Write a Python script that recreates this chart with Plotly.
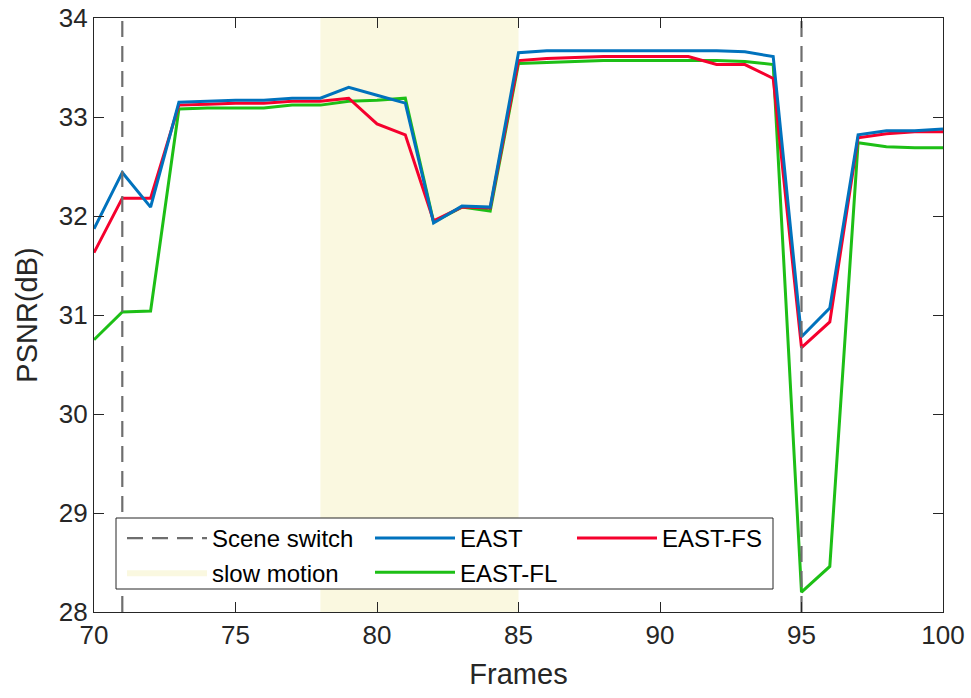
import plotly.graph_objects as go

frames = list(range(70, 101))

east = [31.87, 32.44, 32.09, 33.15, 33.16, 33.17, 33.17, 33.19, 33.19, 33.30,
        33.22, 33.14, 31.93, 32.10, 32.09, 33.65, 33.67, 33.67, 33.67, 33.67,
        33.67, 33.67, 33.67, 33.66, 33.61, 30.78, 31.07, 32.82, 32.86, 32.86, 32.88]

east_fs = [31.63, 32.18, 32.18, 33.12, 33.13, 33.14, 33.14, 33.16, 33.16, 33.19,
           32.93, 32.82, 31.95, 32.09, 32.08, 33.57, 33.59, 33.60, 33.61, 33.61,
           33.61, 33.61, 33.53, 33.53, 33.39, 30.67, 30.93, 32.79, 32.83, 32.85, 32.85]

east_fl = [30.75, 31.03, 31.04, 33.08, 33.09, 33.09, 33.09, 33.12, 33.12, 33.16,
           33.17, 33.19, 31.94, 32.09, 32.05, 33.54, 33.55, 33.56, 33.57, 33.57,
           33.57, 33.57, 33.57, 33.56, 33.53, 28.20, 28.46, 32.74, 32.70, 32.69, 32.69]

scene_switch = [71, 95]
slow_motion = [78, 85]
x_range = [70, 100]
y_range = [28, 34]
x_ticks = [70, 75, 80, 85, 90, 95, 100]
y_ticks = [28, 29, 30, 31, 32, 33, 34]

FONT = "Liberation Sans, Arial, sans-serif"
AX = "#262626"

fig = go.Figure()

# slow motion shading
fig.add_trace(go.Scatter(
    x=[slow_motion[0], slow_motion[1], slow_motion[1], slow_motion[0], slow_motion[0]],
    y=[y_range[0], y_range[0], y_range[1], y_range[1], y_range[0]],
    mode="lines", fill="toself", fillcolor="#FAF8E0", line=dict(width=0, color="#FAF8E0"),
    name="slow motion", legend="legend", legendrank=2, hoverinfo="skip"))

fig.add_trace(go.Scatter(x=frames, y=east_fl, mode="lines", name="EAST-FL",
                         line=dict(color="#1DBF16", width=3), legend="legend2", legendrank=2))
fig.add_trace(go.Scatter(x=frames, y=east_fs, mode="lines", name="EAST-FS",
                         line=dict(color="#F5002D", width=3), legend="legend3", legendrank=1))
fig.add_trace(go.Scatter(x=frames, y=east, mode="lines", name="EAST",
                         line=dict(color="#0072BD", width=3), legend="legend2", legendrank=1))

# scene switch lines
sx, sy = [], []
for s in scene_switch:
    sx += [s, s, None]
    sy += [y_range[0], y_range[1], None]
fig.add_trace(go.Scatter(x=sx, y=sy, mode="lines", name="Scene switch",
                         line=dict(color="#6E6E6E", width=2.2, dash="16px,9px"),
                         legend="legend", legendrank=1, hoverinfo="skip"))

W, H = 971, 698
L, R, T, B = 94, 28, 18, 86
pw, ph = W - L - R, H - T - B

def px_x(p):
    return (p - L) / pw

def px_y(p):
    return (H - B - p) / ph

leg_common = dict(font=dict(family=FONT, size=24, color="#000000"), bgcolor="rgba(0,0,0,0)",
                  borderwidth=0, itemwidth=80, yanchor="top", xanchor="left",
                  tracegroupgap=0, traceorder="normal")
legend_top = px_y(516)

fig.update_layout(
    width=W, height=H, autosize=False,
    margin=dict(l=L, r=R, t=T, b=B, pad=0, autoexpand=False),
    paper_bgcolor="white", plot_bgcolor="white",
    font=dict(family=FONT, color=AX),
    legend=dict(x=px_x(122), y=legend_top, **leg_common),
    legend2=dict(x=px_x(370), y=legend_top, **leg_common),
    legend3=dict(x=px_x(572), y=legend_top, **leg_common),
    shapes=[dict(type="rect", xref="paper", yref="paper",
                 x0=px_x(116), x1=px_x(773), y0=px_y(589), y1=px_y(518),
                 fillcolor="white", line=dict(color=AX, width=1), layer="above")],
    xaxis=dict(range=x_range, tickvals=x_ticks, ticks="inside", ticklen=10, tickwidth=1.3,
               tickcolor=AX, showline=True, linecolor=AX, linewidth=1.3, mirror="allticks",
               showgrid=False, zeroline=False, automargin=False, ticklabeloverflow="allow",
               tickfont=dict(family=FONT, size=26, color=AX),
               title=dict(text="Frames", font=dict(family=FONT, size=29, color=AX), standoff=14)),
    yaxis=dict(range=y_range, tickvals=y_ticks, ticks="inside", ticklen=10, tickwidth=1.3,
               tickcolor=AX, showline=True, linecolor=AX, linewidth=1.3, mirror="allticks",
               showgrid=False, zeroline=False, automargin=False, ticklabeloverflow="allow",
               tickfont=dict(family=FONT, size=26, color=AX),
               title=dict(text="PSNR(dB)", font=dict(family=FONT, size=29, color=AX), standoff=12)),
    showlegend=True,
)

fig.write_html("out.html", config={"displayModeBar": False},
               post_script="document.body.style.margin='0px';document.body.style.overflow='hidden';")
